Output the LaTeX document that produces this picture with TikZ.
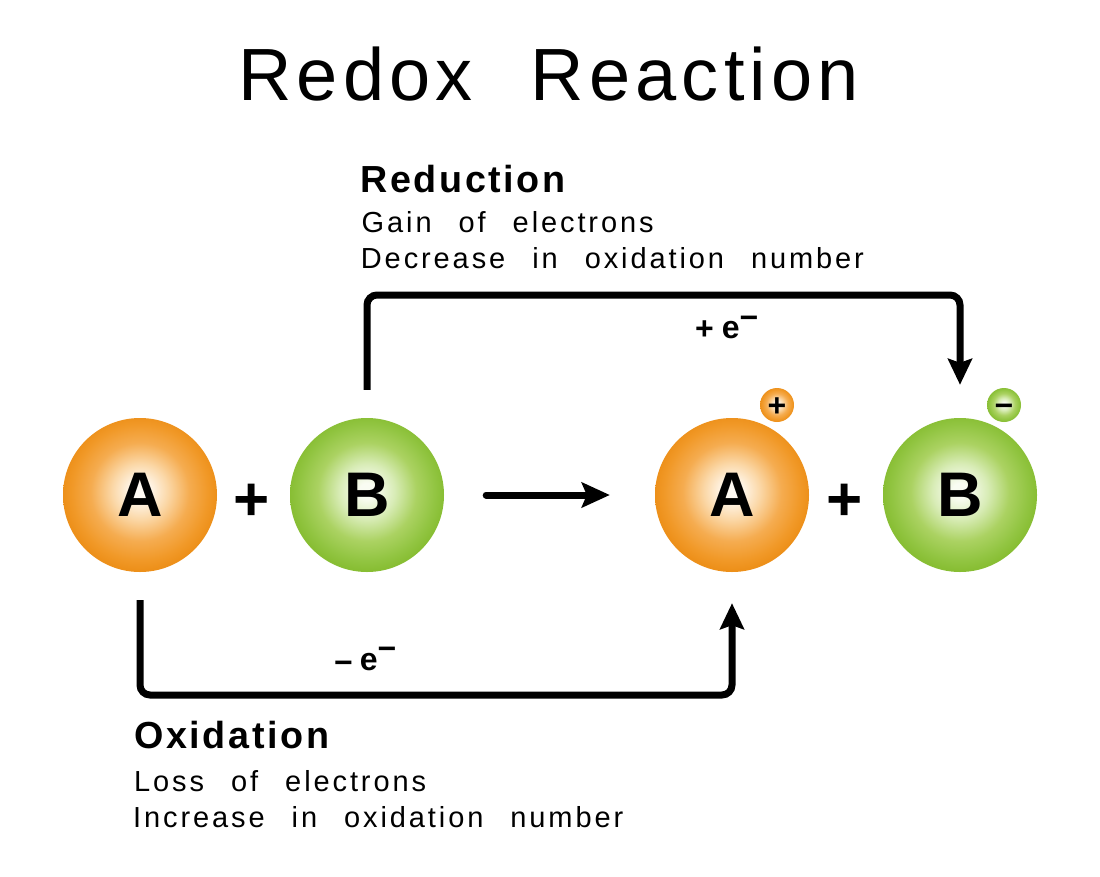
\documentclass[tikz,border=0pt]{standalone}
\usepackage{fontspec}
\setmainfont{Liberation Sans}
\newfontfamily\fTitle[LetterSpace=7]{Liberation Sans}
\newfontfamily\fHead[LetterSpace=7]{Liberation Sans}
\newfontfamily\fBody[LetterSpace=10]{Liberation Sans}
\usetikzlibrary{arrows.meta}
\definecolor{oEdge}{RGB}{237,144,26}
\definecolor{oOut}{RGB}{241,153,40}
\definecolor{oMid}{RGB}{245,172,80}
\definecolor{oLight}{RGB}{251,216,168}
\definecolor{oIn}{RGB}{255,250,243}
\definecolor{gEdge}{RGB}{136,190,52}
\definecolor{gOut}{RGB}{146,197,66}
\definecolor{gMid}{RGB}{171,210,98}
\definecolor{gLight}{RGB}{216,236,182}
\definecolor{gIn}{RGB}{249,252,242}
\pgfdeclareradialshading{shOrange}{\pgfpoint{0bp}{1.5bp}}{color(0bp)=(oIn); color(2.5bp)=(oIn); color(9bp)=(oLight); color(16bp)=(oMid); color(22bp)=(oOut); color(25bp)=(oEdge); color(50bp)=(oEdge)}
\pgfdeclareradialshading{shGreen}{\pgfpoint{0bp}{1.5bp}}{color(0bp)=(gIn); color(2.5bp)=(gIn); color(9bp)=(gLight); color(16bp)=(gMid); color(22bp)=(gOut); color(25bp)=(gEdge); color(50bp)=(gEdge)}
\newcommand\wgap{\hspace{27pt}}
\newcommand\tgap{\hspace{58pt}}
\begin{document}
\begin{tikzpicture}[x=1pt,y=-1pt,
  ballA/.style={circle, shading=shOrange, minimum size=154pt, inner sep=0pt, font=\bfseries\fontsize{63}{63}\selectfont},
  ballB/.style={circle, shading=shGreen, minimum size=154pt, inner sep=0pt, font=\bfseries\fontsize{63}{63}\selectfont},
  ionA/.style={circle, shading=shOrange, minimum size=34pt, inner sep=0pt, font=\bfseries\fontsize{32}{32}\selectfont},
  ionB/.style={circle, shading=shGreen, minimum size=34pt, inner sep=0pt, font=\bfseries\fontsize{32}{32}\selectfont},
  plussign/.style={inner sep=0pt, font=\bfseries\fontsize{62}{62}\selectfont},
  elabel/.style={inner sep=0pt, anchor=base west, font=\bfseries\fontsize{32}{32}\selectfont},
  titletext/.style={inner sep=0pt, anchor=base west, font=\fTitle\fontsize{74}{74}\selectfont},
  headtext/.style={inner sep=0pt, anchor=base west, font=\fHead\bfseries\fontsize{37.7}{37.7}\selectfont},
  bodytext/.style={inner sep=0pt, anchor=base west, font=\fBody\fontsize{29}{29}\selectfont},
  conn/.style={line width=7pt, rounded corners=10pt, -{Stealth[length=26pt,width=24pt,inset=4pt]}},
  rxn/.style={line width=7pt, line cap=round, -{Stealth[length=28pt,width=25pt,inset=5pt]}}
]
\fill[white] (0,0) rectangle (1100,876);
\useasboundingbox (0,0) rectangle (1100,876);

\node[titletext] (title) at (238,100) {Redox\tgap Reaction};

\node[ballA] (A1) at (140,495) {A};
\node[ballB] (B1) at (367,495) {B};
\node[ballA] (A2) at (732,495) {A};
\node[ballB] (B2) at (960,495) {B};
\node[plussign] (p1) at (252,498) {\smash{\raisebox{-0.36em}{+}}};
\node[plussign] (p2) at (845,498) {\smash{\raisebox{-0.36em}{+}}};
\node[ionA] (ionplus) at (777,405) {\smash{\raisebox{-0.36em}{+}}};
\node[ionB] (ionminus) at (1004,405) {\smash{\raisebox{-0.36em}{−}}};

\draw[rxn] ([xshift=42pt]B1.east) -- ([xshift=-45pt]A2.west);

\coordinate (r0) at ([yshift=28pt]B1.north);
\coordinate (r1) at ([yshift=33pt]B2.north);
\coordinate (rtop) at (0,295);
\draw[conn] (r0) -- (r0 |- rtop) -- (r1 |- rtop) -- (r1);

\coordinate (o0) at ([yshift=-28pt]A1.south);
\coordinate (o1) at ([yshift=-31pt]A2.south);
\coordinate (obot) at (0,695);
\draw[conn] (o0) -- (o0 |- obot) -- (o1 |- obot) -- (o1);

\node[elabel] (gainlbl) at (695,338) {\raisebox{-1.5pt}{+}\hspace{8pt}e\raisebox{10pt}{−}};
\node[elabel] (losslbl) at (334,670) {\raisebox{-3pt}{−}\hspace{7pt}e\raisebox{11pt}{−}};

\node[headtext] (red) at (360,192) {Reduction};
\node[bodytext] (gain) at (361.5,232) {Gain\wgap of\wgap electrons};
\node[bodytext] (dec) at (360.7,268) {Decrease\wgap in\wgap oxidation\wgap number};

\node[headtext] (ox) at (134,748) {Oxidation};
\node[bodytext] (loss) at (134,791) {Loss\wgap of\wgap electrons};
\node[bodytext] (inc) at (133,827) {Increase\wgap in\wgap oxidation\wgap number};
\end{tikzpicture}
\end{document}
